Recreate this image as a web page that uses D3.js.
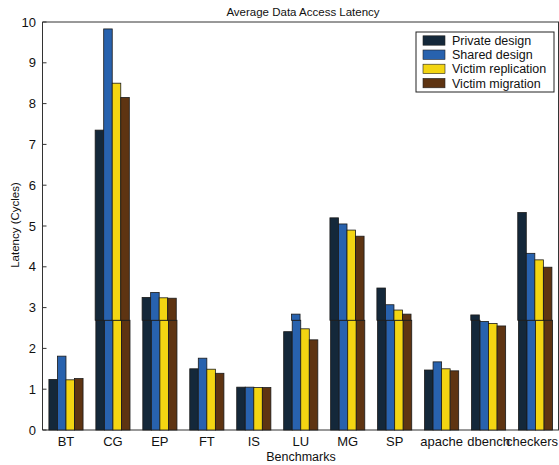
<!DOCTYPE html>
<html>
<head>
<meta charset="utf-8">
<script src="https://cdn.jsdelivr.net/npm/d3@7"></script>
<style>
  body { margin: 0; background: #fff; }
  text { font-family: "Liberation Sans", Arial, sans-serif; fill: #111; }
</style>
</head>
<body>
<div id="chart"></div>
<script>
// === data ===
const benchmarks = ["BT", "CG", "EP", "FT", "IS", "LU", "MG", "SP", "apache", "dbench", "checkers"];
const seriesNames = ["Private design", "Shared design", "Victim replication", "Victim migration"];
const privateDesign = [1.24, 7.35, 3.25, 1.50, 1.05, 2.41, 5.20, 3.48, 1.47, 2.82, 5.33];
const sharedDesign  = [1.81, 9.83, 3.37, 1.76, 1.05, 2.84, 5.05, 3.07, 1.67, 2.66, 4.33];
const victimRepl    = [1.23, 8.50, 3.24, 1.49, 1.04, 2.48, 4.90, 2.94, 1.50, 2.61, 4.17];
const victimMigr    = [1.26, 8.15, 3.23, 1.39, 1.04, 2.21, 4.75, 2.84, 1.45, 2.55, 3.99];
const yTicks = [0, 1, 2, 3, 4, 5, 6, 7, 8, 9, 10];
const colors = ["#14283a", "#2862ae", "#f3d512", "#5e3412"];
const axisBreak = 2.69; // where the scanned figure splits its two panels

const series = [privateDesign, sharedDesign, victimRepl, victimMigr];

const width = 559, height = 465;
const svg = d3.select("#chart").append("svg")
  .attr("width", width).attr("height", height);

const x0 = d3.scaleBand().domain(benchmarks).range([42.5, 559]).padding(0);
const groupW = x0.bandwidth() * 4 / 5.5;
const x1 = d3.scaleBand().domain(d3.range(4)).range([0, groupW]).padding(0);
const y = d3.scaleLinear().domain([0, 10]).range([430, 22]);

// frame: left axis, bottom axis, top line, right line
const frame = svg.append("g").attr("stroke", "#333").attr("stroke-width", 1).attr("fill", "none");
frame.append("line").attr("x1", 42.5).attr("x2", 42.5).attr("y1", y(0)).attr("y2", y(10));
frame.append("line").attr("x1", 42.5).attr("x2", 559).attr("y1", y(0)).attr("y2", y(0));
frame.append("line").attr("x1", 42.5).attr("x2", 559).attr("y1", y(10)).attr("y2", y(10));
frame.append("line").attr("x1", 558.5).attr("x2", 558.5).attr("y1", y(10)).attr("y2", y(0));

// y ticks
const yt = svg.append("g");
yt.selectAll("line").data(yTicks).join("line")
  .attr("x1", 42.5).attr("x2", 46.5)
  .attr("y1", d => y(d)).attr("y2", d => y(d))
  .attr("stroke", "#333");
yt.selectAll("text").data(yTicks).join("text")
  .attr("x", 36).attr("y", d => y(d) + 4.5)
  .attr("text-anchor", "end").style("font-size", "13px")
  .text(d => d);

// bars, split into the two panels at the axis break
const barData = [];
benchmarks.forEach((b, i) => {
  series.forEach((s, k) => {
    const v = s[i];
    barData.push({ b, k, lo: 0, hi: Math.min(v, axisBreak) });
    if (v > axisBreak) barData.push({ b, k, lo: axisBreak, hi: v });
  });
});

const bw = x0.bandwidth();
svg.append("g").selectAll("rect").data(barData).join("rect")
  .attr("x", d => x0(d.b) + (bw - groupW) / 2 + x1(d.k) + (d.lo > 0 ? -0.7 : 0))
  .attr("width", x1.bandwidth())
  .attr("y", d => y(d.hi))
  .attr("height", d => y(d.lo) - y(d.hi))
  .attr("fill", d => colors[d.k])
  .attr("stroke", "#1a1a1a")
  .attr("stroke-width", 0.8);

// x tick labels (last one is kept inside the picture)
svg.append("g").selectAll("text").data(benchmarks).join("text")
  .attr("y", 446)
  .attr("text-anchor", "middle").style("font-size", "13px")
  .text(d => d)
  .attr("x", function(d) {
    const half = this.getComputedTextLength() / 2;
    return Math.min(x0(d) + bw / 2, width - half - 1);
  });

// titles
svg.append("text").attr("x", 303).attr("y", 16).attr("text-anchor", "middle")
  .style("font-size", "11.5px").text("Average Data Access Latency");
svg.append("text").attr("x", 301).attr("y", 461).attr("text-anchor", "middle")
  .style("font-size", "12.5px").text("Benchmarks");
svg.append("text")
  .attr("transform", "translate(19,225) rotate(-90)")
  .attr("text-anchor", "middle").style("font-size", "11.5px")
  .text("Latency (Cycles)");

// legend
const lg = svg.append("g").attr("transform", "translate(416,32)");
lg.append("rect").attr("width", 138).attr("height", 60)
  .attr("fill", "#fff").attr("stroke", "#222").attr("stroke-width", 1);
const items = lg.selectAll("g").data(seriesNames).join("g")
  .attr("transform", (d, i) => `translate(0,${8.5 + i * 14.2})`);
items.append("rect").attr("x", 7).attr("y", -4.7).attr("width", 22).attr("height", 9.4)
  .attr("fill", (d, i) => colors[i]).attr("stroke", "#222").attr("stroke-width", 0.6);
items.append("text").attr("x", 36).attr("y", 4.5).style("font-size", "12.5px").text(d => d);
</script>
</body>
</html>
